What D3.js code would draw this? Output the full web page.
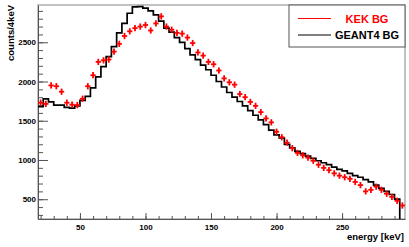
<!DOCTYPE html>
<html>
<head>
<meta charset="utf-8">
<script src="https://cdn.jsdelivr.net/npm/d3@7"></script>
<style>
body { margin: 0; background: #fff; }
text { font-family: "Liberation Sans", Arial, sans-serif; font-weight: bold; }
</style>
</head>
<body>
<svg id="svg1" width="409" height="247"></svg>
<script>
// histogram binning: 4 keV bins starting at 18 keV
var binStart = 18;
var binWidth = 4;

// KEK BG (red, with error bars)
var kekBG = [1730, 1715, 1950, 1940, 1870, 1730, 1705, 1700, 1780, 1940,
             2080, 2250, 2270, 2280, 2380, 2480, 2580, 2640, 2680, 2700,
             2720, 2650, 2740, 2830, 2700, 2660, 2620, 2610, 2560, 2490,
             2370, 2330, 2250, 2220, 2140, 2040, 1990, 1960, 1840, 1800,
             1740, 1690, 1610, 1530, 1480, 1360, 1290, 1220, 1150, 1090,
             1060, 1030, 990, 940, 900, 870, 830, 800, 780, 760,
             720, 680, 600, 620, 660, 620, 570, 530, 480, 420];
var kekErr = 40;

// GEANT4 BG (black histogram)
var geantBG = [1680, 1780, 1740, 1700, 1700, 1670, 1660, 1690, 1760, 1810,
               1920, 2060, 2190, 2316, 2444, 2620, 2740, 2870, 2950, 2955,
               2935, 2900, 2850, 2770, 2680, 2630, 2560, 2500, 2420, 2340,
               2280, 2210, 2150, 2080, 2000, 1930, 1860, 1800, 1745, 1690,
               1630, 1570, 1510, 1450, 1380, 1320, 1280, 1200, 1155, 1110,
               1080, 1050, 1020, 990, 965, 940, 910, 880, 860, 830,
               800, 780, 750, 720, 680, 640, 600, 560, 500, 0];

var xTicks = [50, 100, 150, 200, 250];
var yTicks = [500, 1000, 1500, 2000, 2500];
var legendNames = ['KEK BG', 'GEANT4 BG'];
var legendColors = ['#ff0000', '#000000'];

var padL = 38, padR = 405, padT = 5, padB = 219;

var svg = d3.select('#svg1');

var scaleX = d3.scaleLinear().domain([18, 298]).range([padL, padR]);
var scaleY = d3.scaleLinear().domain([248, 2975]).range([padB, padT]);

svg.append('clipPath').attr('id', 'plotclip')
    .append('rect')
    .attr('x', padL).attr('y', padT)
    .attr('width', padR - padL).attr('height', padB - padT);

// frame (top & right in grey)
svg.append('rect')
    .attr('x', padL).attr('y', padT)
    .attr('width', padR - padL).attr('height', padB - padT)
    .attr('fill', 'none')
    .attr('stroke', '#999')
    .attr('stroke-width', 1.2);

// minor ticks
var xMinor = d3.range(20, 298, 10);
var yMinor = d3.range(300, 2975, 100);

svg.append('g')
    .attr('transform', 'translate(0,' + padB + ')')
    .call(d3.axisBottom(scaleX).tickValues(xMinor).tickSize(-3).tickFormat(''))
    .call(function(g){ g.select('.domain').remove(); });

svg.append('g')
    .attr('transform', 'translate(' + padL + ',0)')
    .call(d3.axisLeft(scaleY).tickValues(yMinor).tickSize(-5).tickFormat(''))
    .call(function(g){ g.select('.domain').remove(); });

// major axes
var xAxis = svg.append('g')
    .attr('class', 'x-axis')
    .attr('transform', 'translate(0,' + padB + ')')
    .call(d3.axisBottom(scaleX).tickValues(xTicks).tickFormat(d3.format('d'))
        .tickSizeInner(-6).tickSizeOuter(0).tickPadding(4));

var yAxis = svg.append('g')
    .attr('class', 'y-axis')
    .attr('transform', 'translate(' + padL + ',0)')
    .call(d3.axisLeft(scaleY).tickValues(yTicks).tickFormat(d3.format('d'))
        .tickSizeInner(-10).tickSizeOuter(0).tickPadding(2));

svg.selectAll('.tick line').attr('stroke', '#555');
svg.selectAll('.domain').attr('stroke', '#555');
svg.selectAll('.tick text').attr('font-size', '8px').attr('fill', '#000');
xAxis.selectAll('.tick text').attr('dy', '0.9em');

// axis titles
svg.append('text')
    .attr('x', 404).attr('y', 240)
    .attr('text-anchor', 'end')
    .attr('font-size', '9.5px')
    .text('energy [keV]');

svg.append('text')
    .attr('transform', 'translate(14,' + padT + ') rotate(-90)')
    .attr('text-anchor', 'end')
    .attr('font-size', '9.5px')
    .text('counts/4keV');

var plot = svg.append('g').attr('clip-path', 'url(#plotclip)');

// GEANT4 step histogram
var steps = geantBG.map(function(v, i){ return [binStart + i * binWidth, v]; });
steps.push([binStart + geantBG.length * binWidth, geantBG[geantBG.length - 1]]);

plot.append('path')
    .datum(steps)
    .attr('fill', 'none')
    .attr('stroke', '#000')
    .attr('stroke-width', 1.7)
    .attr('d', d3.line()
        .x(function(d){ return scaleX(d[0]); })
        .y(function(d){ return scaleY(d[1]); })
        .curve(d3.curveStepAfter));

// KEK crosses
var crosses = plot.selectAll('.kek')
    .data(kekBG)
    .enter()
    .append('g')
    .attr('class', 'kek');

crosses.append('line')
    .attr('x1', function(d, i){ return scaleX(binStart + i * binWidth); })
    .attr('x2', function(d, i){ return scaleX(binStart + (i + 1) * binWidth); })
    .attr('y1', function(d){ return scaleY(d); })
    .attr('y2', function(d){ return scaleY(d); });

crosses.append('line')
    .attr('x1', function(d, i){ return scaleX(binStart + (i + 0.5) * binWidth); })
    .attr('x2', function(d, i){ return scaleX(binStart + (i + 0.5) * binWidth); })
    .attr('y1', function(d){ return scaleY(d - kekErr); })
    .attr('y2', function(d){ return scaleY(d + kekErr); });

crosses.selectAll('line')
    .attr('stroke', '#ff0000')
    .attr('stroke-width', 1.8);

// legend
var legend = svg.append('g');
legend.append('rect')
    .attr('x', 289).attr('y', padT)
    .attr('width', padR - 289).attr('height', 42)
    .attr('fill', '#fff')
    .attr('stroke', '#555')
    .attr('stroke-width', 1);

legendNames.forEach(function(name, k){
    var ly = 18.5 + k * 16.5;
    legend.append('line')
        .attr('x1', 298).attr('x2', 331)
        .attr('y1', ly).attr('y2', ly)
        .attr('stroke', legendColors[k])
        .attr('stroke-width', 1);
    legend.append('text')
        .attr('x', 367).attr('y', ly + 4)
        .attr('text-anchor', 'middle')
        .attr('font-size', '11px')
        .attr('fill', legendColors[k])
        .text(name);
});
</script>
</body>
</html>
